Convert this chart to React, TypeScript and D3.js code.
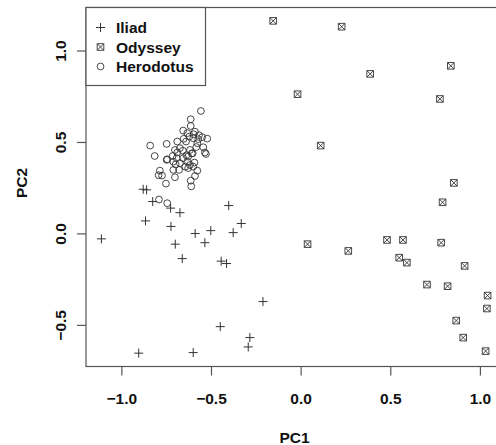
import * as d3 from 'd3'

// PC scores
const iliad: [number, number][] = [
  [-0.881, 0.244], [-0.862, 0.241], [-0.828, 0.177], [-0.728, 0.141], [-0.676, 0.116],
  [-0.404, 0.155], [-0.868, 0.071], [-0.726, 0.041], [-0.591, 0.002], [-0.504, 0.018],
  [-0.379, 0.007], [-0.334, 0.057], [-1.114, -0.027], [-0.702, -0.056], [-0.537, -0.048],
  [-0.663, -0.135], [-0.446, -0.149], [-0.416, -0.162], [-0.213, -0.37], [-0.451, -0.507],
  [-0.286, -0.567], [-0.295, -0.618], [-0.906, -0.652], [-0.602, -0.649],
]

const odyssey: [number, number][] = [
  [-0.156, 1.165], [0.226, 1.133], [0.835, 0.919], [0.385, 0.875], [-0.02, 0.764],
  [0.774, 0.738], [0.109, 0.483], [0.852, 0.279], [0.789, 0.173], [0.036, -0.056],
  [0.263, -0.093], [0.479, -0.033], [0.568, -0.033], [0.781, -0.048], [0.547, -0.13],
  [0.59, -0.157], [0.912, -0.175], [0.702, -0.277], [0.817, -0.286], [1.04, -0.337],
  [1.036, -0.408], [0.865, -0.474], [0.904, -0.567], [1.029, -0.641],
]

const herodotus: [number, number][] = [
  [-0.559, 0.672], [-0.616, 0.627], [-0.616, 0.59], [-0.658, 0.565], [-0.635, 0.551],
  [-0.592, 0.559], [-0.624, 0.532], [-0.602, 0.523], [-0.574, 0.518], [-0.552, 0.529],
  [-0.524, 0.521], [-0.642, 0.505], [-0.579, 0.496], [-0.842, 0.483], [-0.75, 0.492],
  [-0.691, 0.505], [-0.546, 0.474], [-0.817, 0.426], [-0.704, 0.459], [-0.691, 0.445],
  [-0.676, 0.469], [-0.62, 0.459], [-0.605, 0.441], [-0.537, 0.445], [-0.531, 0.437],
  [-0.747, 0.408], [-0.717, 0.426], [-0.694, 0.414], [-0.658, 0.414], [-0.63, 0.423],
  [-0.713, 0.395], [-0.676, 0.387], [-0.635, 0.395], [-0.62, 0.377], [-0.602, 0.368],
  [-0.579, 0.346], [-0.713, 0.35], [-0.681, 0.35], [-0.646, 0.368], [-0.788, 0.346],
  [-0.795, 0.321], [-0.704, 0.31], [-0.592, 0.317], [-0.616, 0.291], [-0.754, 0.275],
  [-0.613, 0.26], [-0.793, 0.188], [-0.747, 0.168], [-0.776, 0.319], [-0.75, 0.405],
  [-0.6, 0.545], [-0.61, 0.44], [-0.64, 0.43], [-0.595, 0.39], [-0.66, 0.455],
  [-0.7, 0.38], [-0.585, 0.475], [-0.655, 0.52], [-0.57, 0.54], [-0.63, 0.36],
]

const xTicks = [-1.0, -0.5, 0.0, 0.5, 1.0]
const yTicks = [-0.5, 0.0, 0.5, 1.0]
const legendLabels = ['Iliad', 'Odyssey', 'Herodotus']

const W = 496
const H = 445
const font = '"Liberation Sans", Arial, Helvetica, sans-serif'
const ink = '#333'

function Marker({ kind, x, y }: { kind: number; x: number; y: number }) {
  if (kind === 0) {
    return <path d={`M${x - 4.5},${y}H${x + 4.5}M${x},${y - 4.5}V${y + 4.5}`} stroke={ink} strokeWidth={1} fill="none" />
  }
  if (kind === 1) {
    const s = 3.3
    return (
      <path
        d={`M${x - s},${y - s}h${2 * s}v${2 * s}h${-2 * s}Z M${x - s},${y - s}L${x + s},${y + s}M${x + s},${y - s}L${x - s},${y + s}`}
        stroke={ink}
        strokeWidth={0.9}
        fill="none"
      />
    )
  }
  return <circle cx={x} cy={y} r={3.4} stroke={ink} strokeWidth={0.9} fill="none" />
}

export default function App() {
  const x = d3.scaleLinear().domain([-1.2, 1.126]).range([86, 503])
  const y = d3.scaleLinear().domain([-0.725, 1.238]).range([366.5, 7.5])
  const [x0, x1] = x.range()
  const [y0, y1] = y.range()
  const fmt = d3.format('.1f')
  const series = [iliad, odyssey, herodotus]

  return (
    <svg
      width={W}
      height={H}
      style={{ position: 'absolute', left: 0, top: 0, background: '#fff', fontFamily: font }}
    >
      {/* plot box (right side falls outside the picture) */}
      <rect x={x0} y={y1} width={x1 - x0} height={y0 - y1} fill="none" stroke="#555" strokeWidth={1.2} />

      {/* x axis */}
      {xTicks.map((t) => (
        <g key={`xt${t}`}>
          <line x1={x(t)} x2={x(t)} y1={y0} y2={y0 + 9} stroke="#555" strokeWidth={1.2} />
          <text x={x(t)} y={403.5} textAnchor="middle" fontSize={15.5} fontWeight="bold" fill="#111">
            {fmt(t)}
          </text>
        </g>
      ))}
      <text x={(x0 + x1) / 2} y={443} textAnchor="middle" fontSize={15.5} fontWeight="bold" fill="#111">
        PC1
      </text>

      {/* y axis */}
      {yTicks.map((t) => (
        <g key={`yt${t}`}>
          <line x1={x0} x2={x0 - 9} y1={y(t)} y2={y(t)} stroke="#555" strokeWidth={1.2} />
          <text
            transform={`translate(66,${y(t)}) rotate(-90)`}
            textAnchor="middle"
            fontSize={15.5}
            fontWeight="bold"
            fill="#111"
          >
            {fmt(t)}
          </text>
        </g>
      ))}
      <text transform={`translate(27,183) rotate(-90)`} textAnchor="middle" fontSize={15.5} fontWeight="bold" fill="#111">
        PC2
      </text>

      {/* points */}
      {series.map((pts, k) =>
        pts.map((p, i) => <Marker key={`p${k}-${i}`} kind={k} x={x(p[0])} y={y(p[1])} />)
      )}

      {/* legend */}
      <rect x={x0} y={y1} width={119.5} height={78} fill="#fff" stroke="#555" strokeWidth={1.2} />
      {legendLabels.map((lab, i) => (
        <g key={lab}>
          <Marker kind={i} x={100.5} y={27.5 + i * 19.5} />
          <text x={116} y={27.5 + i * 19.5 + 5.5} fontSize={15.5} fontWeight="bold" fill="#111">
            {lab}
          </text>
        </g>
      ))}
    </svg>
  )
}
